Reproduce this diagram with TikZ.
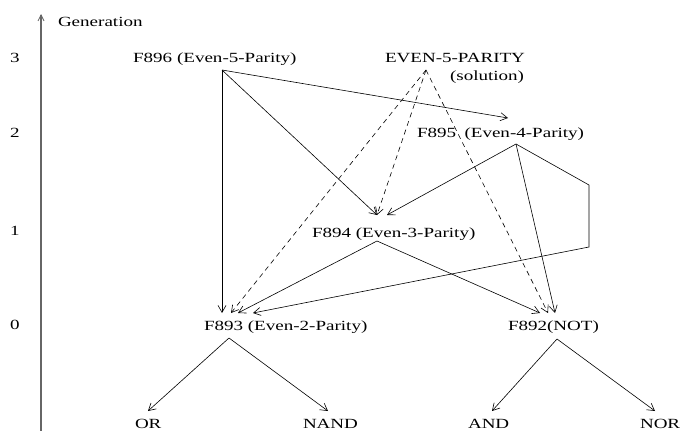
\documentclass[tikz,border=0pt]{standalone}
\usepackage{fontspec}
\setmainfont{Liberation Serif}[FakeStretch=1.36]
\usetikzlibrary{arrows.meta}
\begin{document}
\begin{tikzpicture}[x=1pt,y=-1pt,
  lbl/.style={anchor=base west,inner sep=0pt,outer sep=0pt,font=\fontsize{14}{16}\selectfont},
  edge/.style={line width=0.6pt,-{Straight Barb[length=7pt,width=8pt,line width=0.6pt]}},
  dedge/.style={edge,dash pattern=on 5pt off 4pt},
  axis/.style={line width=1.3pt,draw=black!60,-{Straight Barb[length=6pt,width=6pt,line width=0.8pt]}}]
\useasboundingbox (0,0) rectangle (681,431);
% axis
\coordinate (axb) at (41,431);
\coordinate (axt) at (41,14);
\draw[axis] (axb) -- (axt);
\node[lbl] (gen) at (58,27) {Generation};
\node[lbl] (g3) at (10,62) {3};
\node[lbl] (g2) at (10,137) {2};
\node[lbl] (g1) at (10,235) {1};
\node[lbl] (g0) at (10,329) {0};
% nodes
\node[lbl] (f896) at (133,62) {F896\hspace{0.35em}(Even-5-Parity)};
\node[lbl] (even5) at (385,62) {EVEN-5-PARITY};
\node[lbl] (sol) at (450,80) {(solution)};
\node[lbl] (f895) at (417,137) {F895\hspace{0.6em}(Even-4-Parity)};
\node[lbl] (f894) at (312,237) {F894 (Even-3-Parity)};
\node[lbl] (f893) at (204,330) {F893 (Even-2-Parity)};
\node[lbl] (f892) at (508,330) {F892(NOT)};
\node[lbl] (or) at (135,428) {OR};
\node[lbl] (nand) at (303,428) {NAND};
\node[lbl] (and) at (468,428) {AND};
\node[lbl] (nor) at (640,428) {NOR};
% attachment points
\coordinate (f896o) at (222,70);
\coordinate (even5o) at (426,70);
\coordinate (f895i) at (508,118);
\coordinate (f895o) at (516,144);
\coordinate (f894ia) at (377,215);
\coordinate (f894ib) at (387,215);
\coordinate (f894o) at (377,241);
\coordinate (f893ia) at (222,313);
\coordinate (f893ib) at (231,313);
\coordinate (f893ic) at (238,313);
\coordinate (f893id) at (253,313);
\coordinate (f892ia) at (540,313);
\coordinate (f892ib) at (548,313);
\coordinate (f892ic) at (555,313);
\coordinate (f893o) at (229,338);
\coordinate (f892o) at (557,339);
\coordinate (ori) at (148,411);
\coordinate (nandi) at (328,411);
\coordinate (andi) at (492,411);
\coordinate (nori) at (655,411);
\coordinate (c1) at (589,185);
\coordinate (c2) at (589,247);
% edges
\draw[edge] (f896o) -- (f893ia);
\draw[edge] (f896o) -- (f894ia);
\draw[edge] (f896o) -- (f895i);
\draw[dedge] (even5o) -- (f893ib);
\draw[dedge] (even5o) -- (f894ia);
\draw[dedge] (even5o) -- (f892ib);
\draw[edge] (f895o) -- (f894ib);
\draw[edge] (f895o) -- (f892ic);
\draw[edge] (f895o) -- (c1) -- (c2) -- (f893id);
\draw[edge] (f894o) -- (f893ic);
\draw[edge] (f894o) -- (f892ia);
\draw[edge] (f893o) -- (ori);
\draw[edge] (f893o) -- (nandi);
\draw[edge] (f892o) -- (andi);
\draw[edge] (f892o) -- (nori);
\end{tikzpicture}
\end{document}
